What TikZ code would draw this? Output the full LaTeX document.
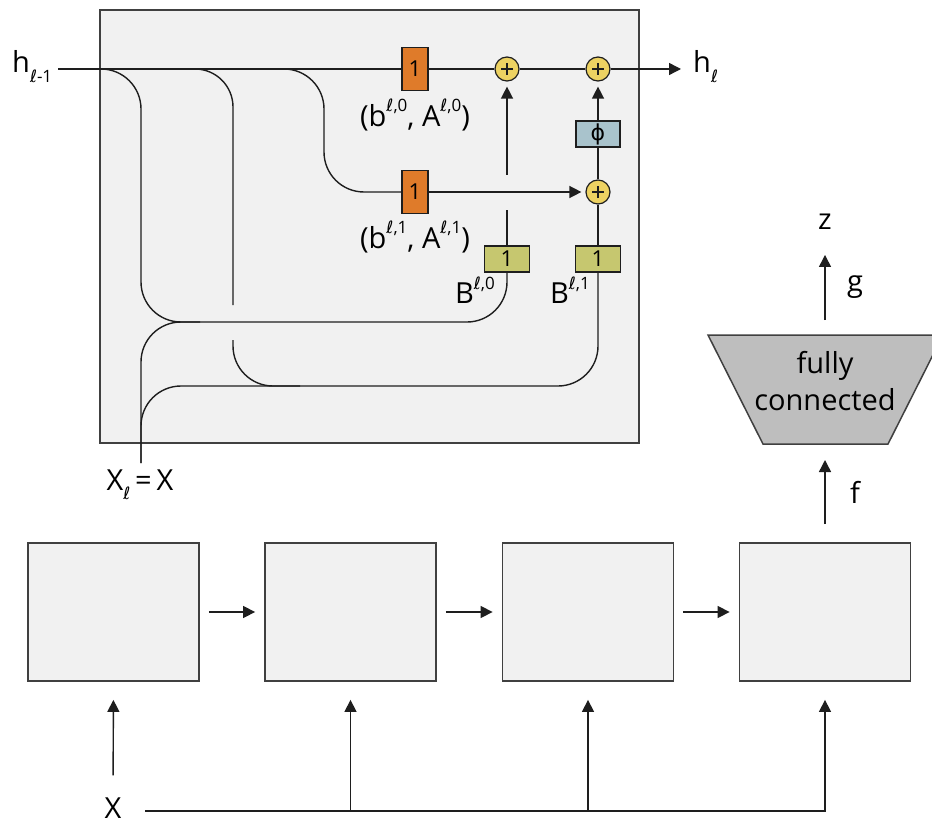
\documentclass[tikz,border=0pt]{standalone}
\usepackage{fontspec}
\setmainfont{Open Sans}
\newfontfamily\dejavu{DejaVu Sans}
\usetikzlibrary{arrows.meta}
\definecolor{framefill}{HTML}{F1F1F1}
\definecolor{framedraw}{HTML}{404040}
\definecolor{orangebox}{HTML}{DF7B2A}
\definecolor{yellowc}{HTML}{EDD262}
\definecolor{olivebox}{HTML}{C6C76F}
\definecolor{phibox}{HTML}{A9C3CC}
\definecolor{trapfill}{HTML}{BEBEBE}
\definecolor{linec}{HTML}{1E1E1E}
\newcommand\mysub[1]{\raisebox{-0.32em}{\fontsize{17}{17}\selectfont #1}}
\newcommand\mysup[1]{\raisebox{0.5em}{\fontsize{17}{17}\selectfont #1}}
\newcommand\ellc{{\dejavu ℓ}}
\begin{document}
\begin{tikzpicture}[x=1pt,y=-1pt,
  ln/.style={draw=linec, line width=1.4pt},
  arr/.style={ln, -{Triangle[length=12pt,width=12pt]}},
  frame/.style={draw=framedraw, fill=framefill, line width=1.8pt, minimum width=539pt, minimum height=433pt, inner sep=0pt},
  blk/.style={draw=framedraw, fill=framefill, line width=1.8pt, minimum width=171pt, minimum height=138pt, inner sep=0pt},
  obox/.style={draw=linec, fill=orangebox, line width=1.2pt, minimum width=26pt, minimum height=43pt, inner sep=0pt, font=\fontsize{22}{24}\selectfont},
  gbox/.style={draw=linec, fill=olivebox, line width=1.2pt, minimum width=45pt, minimum height=26pt, inner sep=0pt, font=\fontsize{22}{24}\selectfont},
  pbox/.style={draw=linec, fill=phibox, line width=1.2pt, minimum width=44pt, minimum height=26pt, inner sep=0pt, font=\fontsize{22}{24}\selectfont},
  plus/.style={circle, draw=linec, fill=yellowc, line width=1.2pt, minimum size=24pt, inner sep=0pt,
    path picture={\draw[line width=2.2pt, linec] ([xshift=-6pt]path picture bounding box.center) -- ([xshift=6pt]path picture bounding box.center)
      ([yshift=-6pt]path picture bounding box.center) -- ([yshift=6pt]path picture bounding box.center);}},
  lbl/.style={font=\fontsize{29}{34}\selectfont, inner sep=0pt},
]
\useasboundingbox (0,0) rectangle (932,824);
\fill[white] (0,0) rectangle (932,824);

% big frame
\node[frame] (frame) at (369.5,226.5) {};

% boxes inside
\node[obox] (o0) at (415,69) {1};
\node[obox] (o1) at (415,192) {1};
\node[plus] (p0) at (507,69) {};
\node[plus] (p1) at (598,69) {};
\node[plus] (p2) at (598,192) {};
\node[pbox] (phi) at (598,134) {\dejavu ϕ};
\node[gbox] (b0) at (507,259) {1};
\node[gbox] (b1) at (598,259) {1};

% labels
\node[lbl, anchor=base west] (hprev) at (12,73) {h\mysub{\ellc-1}};
\node[lbl, anchor=base west] (hl) at (693,73) {h\mysub{\ellc}};
\node[lbl] (la0) at (415,115) {(b\mysup{\ellc,0}, A\mysup{\ellc,0})};
\node[lbl] (la1) at (415,237) {(b\mysup{\ellc,1}, A\mysup{\ellc,1})};
\node[lbl] (lb0) at (475,290) {B\mysup{\ellc,0}};
\node[lbl] (lb1) at (570,290) {B\mysup{\ellc,1}};
\node[lbl] (xl) at (140,485) {X\mysub{\ellc}\,=\,X};

% coordinates
\coordinate (hs) at (58,69);
\coordinate (he) at (681,69);
\coordinate (xtop) at (141,463);

% main h line
\draw[ln] (hs) -- (o0.west);
\draw[ln] (o0.east) -- (p0.west);
\draw[ln] (p0.east) -- (p1.west);
\draw[arr] (p1.east) -- (he);

% branch 1: h -> B0
\draw[ln, rounded corners=40pt] (100,69) -| (141,322) -| (b0.south);
% X -> B0
\draw[ln, rounded corners=40pt] (xtop) -- (141,322) -- (200,322);
% X -> B1
\draw[ln, rounded corners=40pt] (xtop) -- (141,386) -| (b1.south);
% branch 2: h -> B1 (with gap)
\draw[ln, rounded corners=38pt] (195,69) -| (233,305);
\draw[ln, rounded corners=40pt] (233,340) |- (300,386);
% branch 3: h -> lower orange
\draw[ln, rounded corners=40pt] (284,69) -| (324,192) -- (o1.west);
\draw[arr, shorten >=4pt] (o1.east) -- (p2.west);
\draw[ln] (p2.north) -- (phi.south);
\draw[arr, shorten >=5pt] (phi.north) -- (p1.south);
\draw[ln] (b1.north) -- (p2.south);
% B0 up to p0 (with gap)
\coordinate (g0a) at (507,210);
\coordinate (g0b) at (507,175);
\draw[ln] (b0.north) -- (g0a);
\draw[arr, shorten >=5pt] (g0b) -- (p0.south);

% bottom chain
\node[blk] (m1) at (113.5,612) {};
\node[blk] (m2) at (350.5,612) {};
\node[blk] (m3) at (588,612) {};
\node[blk] (m4) at (825,612) {};
\draw[arr, shorten <=9pt, shorten >=9pt] (m1) -- (m2);
\draw[arr, shorten <=9pt, shorten >=9pt] (m2) -- (m3);
\draw[arr, shorten <=9pt, shorten >=9pt] (m3) -- (m4);

\node[lbl] (X) at (113,808) {X};
\coordinate (xs) at (145,811);
\draw[arr, shorten <=22pt, shorten >=18pt] (X.north) -- (m1.south);
\draw[arr, shorten >=18pt] (xs) -| (m4.south);
\draw[arr, shorten >=18pt] (xs -| m2) -- (m2.south);
\draw[arr, shorten >=18pt] (xs -| m3) -- (m3.south);

% fully connected
\draw[draw=framedraw, fill=trapfill, line width=1.5pt] (708,335) -- (943,335) -- (888,444) -- (763,444) -- cycle;
\node[lbl, align=center] (fc) at (825,381) {fully\\[3pt]connected};
\coordinate (tb) at (825,444);
\coordinate (tt) at (825,335);
\draw[arr, shorten <=18pt, shorten >=16pt] (m4.north) -- (tb);
\node[lbl] (z) at (825,222) {z};
\draw[arr, shorten <=15pt, shorten >=25pt] (tt) -- (z.south);
\node[lbl] (g) at (855,287) {g};
\node[lbl] (f) at (855,492) {f};
\end{tikzpicture}
\end{document}
